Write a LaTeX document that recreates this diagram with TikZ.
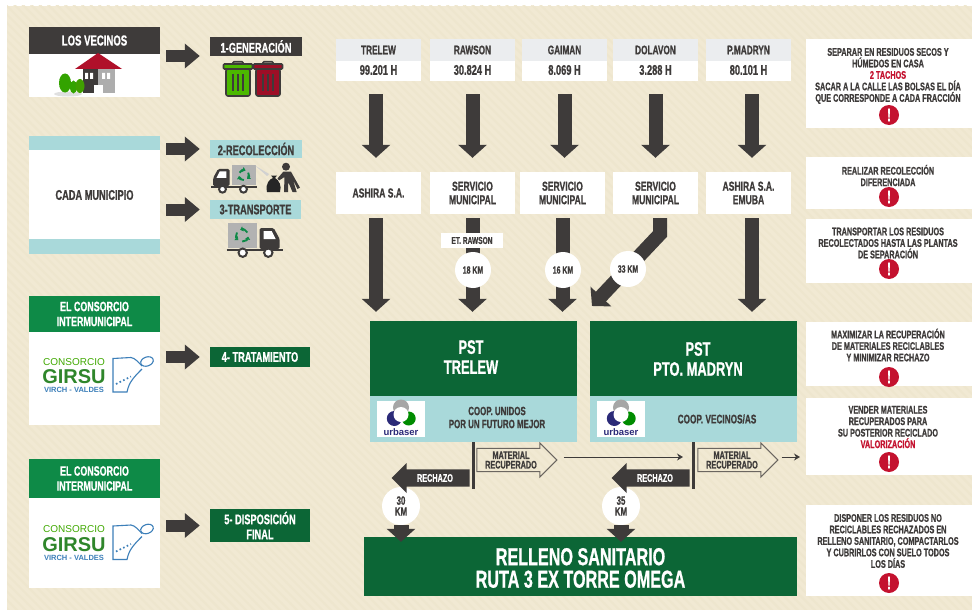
\documentclass[tikz,border=0pt]{standalone}
\usepackage{fontspec}
\setmainfont[FakeStretch=0.66,BoldFont={Liberation Sans Bold},BoldFeatures={FakeStretch=0.66,FakeBold=0.8}]{Liberation Sans}
\newfontfamily\logofont{Liberation Sans}
\usepackage{tikz}
\usetikzlibrary{shapes, arrows.meta, positioning, patterns.meta}
\definecolor{cream}{HTML}{F1E9D3}
\definecolor{stripe}{HTML}{EEE6CE}
\definecolor{ink}{HTML}{3E3B3A}
\definecolor{teal}{HTML}{A9D9DA}
\definecolor{paleband}{HTML}{EBEDEF}
\definecolor{midgreen}{HTML}{0E8A47}
\definecolor{deepgreen}{HTML}{0C6636}
\definecolor{alert}{HTML}{C4122F}
\definecolor{logoblue}{HTML}{3C7FB9}
\definecolor{navy}{HTML}{2B2A78}
\newcommand{\fsz}[2]{\fontsize{#1}{#2}\selectfont\bfseries}
\newcommand{\RecycleMark}[3]{%
  \begin{scope}[shift={(#1,#2)}, line width=1.9pt, draw=midgreen]
    \draw[-{Triangle[width=5pt,length=3pt]}] (90:#3) arc (90:10:#3);
    \draw[-{Triangle[width=5pt,length=3pt]}] (210:#3) arc (210:130:#3);
    \draw[-{Triangle[width=5pt,length=3pt]}] (330:#3) arc (330:250:#3);
  \end{scope}}
\newcommand{\TruckIcon}[1]{%
  \begin{scope}[#1]
    \fill[black!30] (1.3,-27) rectangle (30,-2);
    \fill[ink, rounded corners=1.5pt] (33,-22) -- (47,-22) -- (53,-11) -- (53,-1) -- (33,-1) -- cycle;
    \fill[white] (37,-19) -- (45,-19) -- (49,-11) -- (37,-11) -- cycle;
    \draw[ink, line width=1.8pt] (0,0) -- (56,0);
    \draw[ink, line width=2pt, fill=white] (16,2.7) circle (4.2);
    \draw[ink, line width=2pt, fill=white] (41.6,2.7) circle (4.2);
    \RecycleMark{15.5}{-14.5}{6}
  \end{scope}}
\newcommand{\TrashBin}[2]{%
  \begin{scope}[shift={(#1,61)}, draw=ink, line width=1.6pt]
    \draw[rounded corners=1pt] (10,3) -- (10,0.8) -- (20,0.8) -- (20,3);
    \draw[fill=#2, rounded corners=1pt] (0.5,3) rectangle (29.5,8);
    \draw[fill=#2, rounded corners=2pt] (3,8) rectangle (27,35);
    \draw[line width=1.2pt] (10,13) -- (10,30) (15,13) -- (15,30) (20,13) -- (20,30);
  \end{scope}}
\newcommand{\GirsuLogo}[2]{%
  \begin{scope}[shift={(0,#2)}]
    \node[inner sep=0pt, text=green!55!black!75!yellow, font=\logofont\fontsize{10}{11}\selectfont] (#1a) at (74,362) {CONSORCIO};
    \node[inner sep=0pt, text=midgreen!75!lime!80!black, font=\logofont\bfseries\fontsize{20}{20}\selectfont] (#1b) at (74,377) {GIRSU};
    \node[inner sep=0pt, text=logoblue, font=\logofont\bfseries\fontsize{7.5}{8}\selectfont] (#1c) at (74,390) {VIRCH - VALDES};
    \draw[logoblue, line width=1.1pt] (131,357.5) -- (113,358.5) -- (113,392) -- (127,392)
      .. controls (129,382) and (134,377) .. (142,369);
    \draw[logoblue, line width=1.1pt] (131,357.5) .. controls (135,358) and (138,362) .. (142,366);
    \draw[logoblue, line width=1.1pt, rotate around={20:(147,361.5)}] (147,361.5) ellipse (6.5 and 4.5);
    \draw[logoblue, line width=1.7pt, dash pattern=on 1.6pt off 2.4pt] (116,384) -- (131,376.5);
  \end{scope}}
\newcommand{\UrbaserLogo}[2]{%
  \begin{scope}[shift={(#2,419)}]
    \fill[black!35] (0,-11.5) circle (8);
    \fill[navy] (-6.7,-0.5) circle (7.5);
    \fill[green!55!black] (7.7,-0.5) circle (7);
    \fill[white] (0,-4.5) circle (7.5);
    \node[inner sep=0pt, text=navy, font=\logofont\bfseries\fontsize{9.5}{10}\selectfont] (#1) at (0,12.7) {urbaser};
  \end{scope}}
\begin{document}
\begin{tikzpicture}
  [
    x=1pt, y=-1pt,
    Plain/.style={rectangle, inner sep=0pt, align=center, text=ink},
    White/.style={Plain, fill=white},
    Teal/.style={Plain, fill=teal},
    Pale/.style={Plain, fill=paleband},
    Dark/.style={Plain, fill=ink, text=white},
    Mid/.style={Plain, fill=midgreen, text=white},
    Deep/.style={Plain, fill=deepgreen, text=white},
    Round/.style={circle, fill=white, inner sep=0pt, align=center, text=ink, font=\fsz{10.5}{11}},
    Alert/.style={circle, fill=alert, minimum size=20pt, inner sep=0pt, text=white, font=\fsz{18}{18}},
    Bar/.style={rectangle, fill=ink, minimum width=3pt, minimum height=47pt, inner sep=0pt},
    Reject/.style={single arrow, fill=ink, text=white, shape border rotate=180, minimum height=78pt, minimum width=30pt,
      single arrow head extend=4.5pt, single arrow head indent=0pt, inner sep=2pt, font=\fsz{11}{11}},
    Saved/.style={single arrow, draw=ink!75!cream, line width=1pt, minimum height=80pt, minimum width=34pt,
      single arrow head extend=5pt, single arrow head indent=0pt, inner sep=2pt, text=ink, align=center, font=\fsz{11}{9.5}},
    BigArrow/.style={draw=ink, line width=14pt, line join=miter, -{Triangle[width=28pt,length=13pt]}},
    SideArrow/.style={draw=ink, line width=12pt, -{Triangle[width=24pt,length=15pt]}, shorten <=6pt, shorten >=10pt},
    SmallArrow/.style={draw=ink, line width=1pt, -{Stealth[width=7pt,length=6pt]}}
  ]
  \useasboundingbox (0,0) rectangle (972,610);
  % Background
  \path[fill=cream] (7,6) rectangle (972,610);
  \path[pattern={Lines[angle=-45,distance=6pt,line width=2pt]}, pattern color=stripe] (7,6) rectangle (972,610);
  % Left column
  \node[White, minimum width=131pt, minimum height=70pt] (vecinos) at (94.5,62) {};
  \node[Dark, minimum width=131pt, minimum height=27pt, font=\fsz{14.5}{15}] (vecinoshead) at (94.5,40.5) {LOS VECINOS};
  \node[White, minimum width=131pt, minimum height=118pt, font=\fsz{14}{15}] (municipio) at (94.5,195) {CADA MUNICIPIO};
  \node[Teal, minimum width=131pt, minimum height=14pt] (municipiotop) at (94.5,143) {};
  \node[Teal, minimum width=131pt, minimum height=15pt] (municipiobot) at (94.5,246.5) {};
  \node[White, minimum width=131pt, minimum height=129pt] (consorcio1) at (94.5,360.5) {};
  \node[Mid, minimum width=131pt, minimum height=36pt, font=\fsz{13.5}{15}] (consorcio1head) at (94.5,314) {EL CONSORCIO\\INTERMUNICIPAL};
  \node[White, minimum width=131pt, minimum height=129pt] (consorcio2) at (94.5,523.5) {};
  \node[Mid, minimum width=131pt, minimum height=39pt, font=\fsz{13.5}{15}] (consorcio2head) at (94.5,478.5) {EL CONSORCIO\\INTERMUNICIPAL};
  \GirsuLogo{girsu1}{0}
  \GirsuLogo{girsu2}{167.5}
  % Stages
  \node[Dark, minimum width=92pt, minimum height=19pt, font=\fsz{14}{14}] (generacion) at (256,46.5) {1-GENERACIÓN};
  \node[Teal, minimum width=92pt, minimum height=18pt, font=\fsz{14}{14}] (recoleccion) at (256,149) {2-RECOLECCIÓN};
  \node[Teal, minimum width=91pt, minimum height=19pt, font=\fsz{14}{14}] (transporte) at (255.5,209.5) {3-TRANSPORTE};
  \node[Deep, minimum width=100pt, minimum height=20pt, font=\fsz{14}{14}] (tratamiento) at (260,357) {4- TRATAMIENTO};
  \node[Deep, minimum width=100pt, minimum height=33pt, font=\fsz{14}{15}] (disposicion) at (260,525.5) {5- DISPOSICIÓN\\FINAL};
  % Icons
  \fill[black!12] (68,94) ellipse (14 and 2.5);
  \fill[ink] (83,69) rectangle (98,93);
  \fill[black!32] (98,69) rectangle (115,93);
  \fill[alert!90!black] (75,69) -- (98,53) -- (122,69) -- cycle;
  \fill[white] (94,85) rectangle (103,94);
  \fill[white] (85,73) rectangle (88,79) (90,73) rectangle (93,79) (102,73) rectangle (105,79) (107,73) rectangle (110,79);
  \fill[green!55!black!80!yellow] (65,83) ellipse (6 and 9.5);
  \fill[green!55!black!80!yellow] (73.5,87) ellipse (3.5 and 6.5);
  \fill[green!50!black!75!yellow] (80,86) ellipse (4.5 and 7);
  \TrashBin{223}{green!60!black!70!yellow}
  \TrashBin{253}{alert!80!black}
  \TruckIcon{shift={(256.6,187)}, xscale=-0.82, yscale=0.82}
  \fill[black!18] (255,165.5) -- (269,174) -- (267,176) -- cycle;
  \fill[black!85] (267,192) .. controls (265,183) and (270,179) .. (273,178) -- (271,175.5) -- (277,175.5) -- (275,178) .. controls (279,180) and (282,186) .. (280,192) -- cycle;
  \fill[ink] (286,166.7) circle (4);
  \fill[ink] (283.3,171.7) -- (291,171.7) -- (300,187.7) -- (297.5,189) -- (293,180) -- (296.7,192) -- (292.5,192) -- (288.3,182) -- (288,192) -- (284,192) -- (284.5,177) -- (279,180.5) -- (277.5,178.5) -- cycle;
  \TruckIcon{shift={(226.7,250)}}
  % Towns
  \node[White, minimum width=85pt, minimum height=42pt] (trelew) at (378.5,60) {};
  \node[White, minimum width=85pt, minimum height=42pt] (rawson) at (472.5,60) {};
  \node[White, minimum width=85pt, minimum height=42pt] (gaiman) at (564.5,60) {};
  \node[White, minimum width=85pt, minimum height=42pt] (dolavon) at (655.5,60) {};
  \node[White, minimum width=85pt, minimum height=42pt] (madryn) at (748.5,60) {};
  \node[Pale, minimum width=85pt, minimum height=22pt, font=\fsz{12.5}{13}] (trelewname) at (378.5,50) {TRELEW};
  \node[Pale, minimum width=85pt, minimum height=22pt, font=\fsz{12.5}{13}] (rawsonname) at (472.5,50) {RAWSON};
  \node[Pale, minimum width=85pt, minimum height=22pt, font=\fsz{12.5}{13}] (gaimanname) at (564.5,50) {GAIMAN};
  \node[Pale, minimum width=85pt, minimum height=22pt, font=\fsz{12.5}{13}] (dolavonname) at (655.5,50) {DOLAVON};
  \node[Pale, minimum width=85pt, minimum height=22pt, font=\fsz{12.5}{13}] (madrynname) at (748.5,50) {P.MADRYN};
  \node[Plain, font=\fsz{14}{14}] (trelewhab) at (378.5,70) {99.201 H};
  \node[Plain, font=\fsz{14}{14}] (rawsonhab) at (472.5,70) {30.824 H};
  \node[Plain, font=\fsz{14}{14}] (gaimanhab) at (564.5,70) {8.069 H};
  \node[Plain, font=\fsz{14}{14}] (dolavonhab) at (655.5,70) {3.288 H};
  \node[Plain, font=\fsz{14}{14}] (madrynhab) at (748.5,70) {80.101 H};
  % Collectors
  \node[White, minimum width=85pt, minimum height=42pt, font=\fsz{13}{13.5}] (ashira) at (378.5,193) {ASHIRA S.A.};
  \node[White, minimum width=85pt, minimum height=42pt, font=\fsz{13}{13.5}] (servicio1) at (472.5,193) {SERVICIO\\MUNICIPAL};
  \node[White, minimum width=85pt, minimum height=42pt, font=\fsz{13}{13.5}] (servicio2) at (562.5,193) {SERVICIO\\MUNICIPAL};
  \node[White, minimum width=85pt, minimum height=42pt, font=\fsz{13}{13.5}] (servicio3) at (655.5,193) {SERVICIO\\MUNICIPAL};
  \node[White, minimum width=85pt, minimum height=42pt, font=\fsz{13}{13.5}] (emuba) at (748.5,193) {ASHIRA S.A.\\EMUBA};
  % Plants
  \node[Deep, minimum width=207pt, minimum height=75pt] (psttrelew) at (473.5,358.5) {};
  \node[Deep, minimum width=207pt, minimum height=75pt] (pstmadryn) at (693.5,358.5) {};
  \node[Plain, text=white, font=\fsz{19.5}{20}] (psttrelewname) at (471,357) {PST\\TRELEW};
  \node[Plain, text=white, font=\fsz{19.5}{20}] (pstmadrynname) at (698,359) {PST\\PTO. MADRYN};
  \node[Teal, minimum width=207pt, minimum height=46pt] (cooptrelew) at (473.5,419) {};
  \node[Teal, minimum width=207pt, minimum height=46pt] (coopmadryn) at (693.5,419) {};
  \node[Plain, font=\fsz{12}{13}] (unidos) at (497,417.5) {COOP. UNIDOS\\POR UN FUTURO MEJOR};
  \node[Plain, font=\fsz{12.5}{13}] (vecinas) at (717,419) {COOP. VECINOS/AS};
  \node[White, minimum width=48pt, minimum height=36pt] (urbaserbox1) at (401,419) {};
  \node[White, minimum width=48pt, minimum height=36pt] (urbaserbox2) at (621,419) {};
  \UrbaserLogo{urbaser1}{401}
  \UrbaserLogo{urbaser2}{621}
  \node[Deep, minimum width=433pt, minimum height=59pt] (relleno) at (580.5,566.5) {};
  \node[Plain, text=white, font=\fsz{24.5}{22.5}] (rellenoname) at (580.5,568) {RELLENO SANITARIO\\RUTA 3 EX TORRE OMEGA};
  \node[Bar] (bar1) at (473,465.5) {};
  \node[Bar] (bar2) at (693,465.5) {};
  \node[Saved] (saved1) at (511,460) {MATERIAL\\RECUPERADO};
  \node[Saved] (saved2) at (732,460) {MATERIAL\\RECUPERADO};
  \coordinate (bend) at (660,234);
  \coordinate (drop) at (592,306);
  \coordinate (market1) at (683,457);
  \coordinate (market2) at (800,457);
  % Notes
  \node[White, minimum width=166pt, minimum height=89pt] (note1) at (889,83.5) {};
  \node[White, minimum width=166pt, minimum height=52pt] (note2) at (889,183) {};
  \node[White, minimum width=166pt, minimum height=64pt] (note3) at (889,251) {};
  \node[White, minimum width=166pt, minimum height=64pt] (note4) at (889,354) {};
  \node[White, minimum width=166pt, minimum height=77pt] (note5) at (889,436.5) {};
  \node[White, minimum width=166pt, minimum height=91pt] (note6) at (889,550.5) {};
  \node[Plain, font=\fsz{11}{11.5}] (text1) at (888,76) {SEPARAR EN RESIDUOS SECOS Y\\HÚMEDOS EN CASA\\\textcolor{alert}{2 TACHOS}\\SACAR A LA CALLE LAS BOLSAS EL DÍA\\QUE CORRESPONDE A CADA FRACCIÓN};
  \node[Plain, font=\fsz{11}{11.5}] (text2) at (888,175.5) {REALIZAR RECOLECCIÓN\\DIFERENCIADA};
  \node[Plain, font=\fsz{11}{11.5}] (text3) at (888,243) {TRANSPORTAR LOS RESIDUOS\\RECOLECTADOS HASTA LAS PLANTAS\\DE SEPARACIÓN};
  \node[Plain, font=\fsz{11}{11.5}] (text4) at (888,345) {MAXIMIZAR LA RECUPERACIÓN\\DE MATERIALES RECICLABLES\\Y MINIMIZAR RECHAZO};
  \node[Plain, font=\fsz{11}{11.5}] (text5) at (888,427) {VENDER MATERIALES\\RECUPERADOS PARA\\SU POSTERIOR RECICLADO\\\textcolor{alert}{VALORIZACIÓN}};
  \node[Plain, font=\fsz{11}{11.5}] (text6) at (888,541) {DISPONER LOS RESIDUOS NO\\RECICLABLES RECHAZADOS EN\\RELLENO SANITARIO, COMPACTARLOS\\Y CUBRIRLOS CON SUELO TODOS\\LOS DÍAS};
  \node[Alert] (alert1) at (889,115) {!};
  \node[Alert] (alert2) at (889,197) {!};
  \node[Alert] (alert3) at (889,269) {!};
  \node[Alert] (alert4) at (889,377) {!};
  \node[Alert] (alert5) at (889,462) {!};
  \node[Alert] (alert6) at (889,583) {!};
  % Lines
  \path [SideArrow] ([yshift=6pt]vecinos.east) -- ([yshift=-9.5pt]generacion.west);
  \path [SideArrow] (municipiotop.east |- recoleccion.west) -- (recoleccion.west);
  \path [SideArrow] (municipio.east |- transporte.west) -- (transporte.west);
  \path [SideArrow] (consorcio1.east |- tratamiento.west) -- (tratamiento.west);
  \path [SideArrow] (consorcio2.east |- disposicion.west) -- (disposicion.west);
  \path [BigArrow, shorten <=13pt, shorten >=14pt] ([xshift=-2.5pt]trelew.south) -- ([xshift=-2.5pt]ashira.north);
  \path [BigArrow, shorten <=13pt, shorten >=14pt] (rawson.south) -- (servicio1.north);
  \path [BigArrow, shorten <=13pt, shorten >=14pt] (gaiman.south) -- (gaiman.south |- servicio2.north);
  \path [BigArrow, shorten <=13pt, shorten >=14pt] (dolavon.south) -- (servicio3.north);
  \path [BigArrow, shorten <=13pt, shorten >=14pt] ([xshift=3.5pt]madryn.south) -- ([xshift=3.5pt]emuba.north);
  \path [BigArrow, shorten <=4pt, shorten >=9pt] ([xshift=-2.5pt]ashira.south) -- ([xshift=-2.5pt]ashira.south |- psttrelew.north);
  \path [BigArrow, shorten <=4pt, shorten >=9pt] (servicio1.south) -- (servicio1.south |- psttrelew.north);
  \path [BigArrow, shorten <=4pt, shorten >=9pt] (servicio2.south) -- (servicio2.south |- psttrelew.north);
  \path [BigArrow, shorten <=4pt, shorten >=9pt] ([xshift=3.5pt]emuba.south) -- ([xshift=3.5pt]emuba.south |- pstmadryn.north);
  \path [BigArrow, shorten <=4pt] ([xshift=4.5pt]servicio3.south) -- (bend) -- (drop);
  \path [SmallArrow] ([shift={(6pt,3pt)}]saved1.tip) -- (market1);
  \path [SmallArrow] ([shift={(3pt,3pt)}]saved2.tip) -- (market2);
  % Labels on the lines
  \node[White, minimum width=62pt, minimum height=15pt, font=\fsz{10}{10}] (etrawson) at (472,240.5) {ET. RAWSON};
  \node[Round, minimum size=36pt] (km18) at (473,270) {18 KM};
  \node[Round, minimum size=36pt] (km16) at (563,270) {16 KM};
  \node[Round, minimum size=36pt] (km33) at (628,269) {33 KM};
  \node[Round, minimum size=38pt, font=\fsz{12}{11}] (km30) at (401,506) {30\\KM};
  \node[Round, minimum size=38pt, font=\fsz{12}{11}] (km35) at (621,506) {35\\KM};
  \node[Reject] (reject1) at (435,478) {RECHAZO};
  \node[Reject] (reject2) at (655,478) {RECHAZO};
  \path [BigArrow, line width=15pt, shorten >=-5pt] (km30.south) -- (km30.south |- relleno.north);
  \path [BigArrow, line width=15pt, shorten >=-5pt] (km35.south) -- (km35.south |- relleno.north);
\end{tikzpicture}
\end{document}
